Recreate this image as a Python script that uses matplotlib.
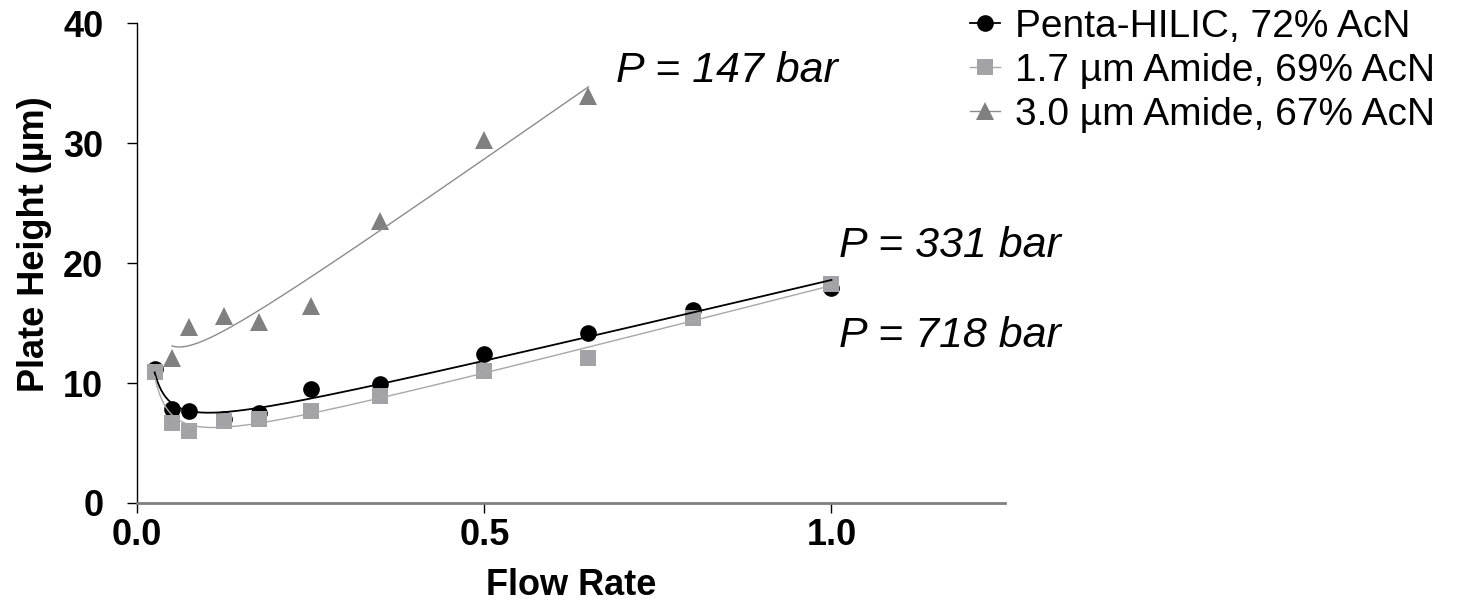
import numpy as np
import matplotlib
matplotlib.use('Agg')
import matplotlib.pyplot as plt

plt.rcParams['font.family'] = ['Liberation Sans', 'DejaVu Sans']

# flow rate / plate height values
penta_x = [0.025, 0.05, 0.075, 0.125, 0.175, 0.25, 0.35, 0.5, 0.65, 0.8, 1.0]
penta_h = [11.2, 7.8, 7.7, 7.0, 7.5, 9.5, 9.9, 12.4, 14.2, 16.1, 17.9]

amide17_x = [0.025, 0.05, 0.075, 0.125, 0.175, 0.25, 0.35, 0.5, 0.65, 0.8, 1.0]
amide17_h = [10.9, 6.7, 6.0, 6.8, 7.0, 7.7, 8.9, 11.0, 12.1, 15.4, 18.3]

amide30_x = [0.05, 0.075, 0.125, 0.175, 0.25, 0.35, 0.5, 0.65]
amide30_h = [12.1, 14.7, 15.6, 15.1, 16.4, 23.5, 30.3, 33.9]

labels = ['Penta-HILIC, 72% AcN', '1.7 \u00b5m Amide, 69% AcN', '3.0 \u00b5m Amide, 67% AcN']
pressures = ['P = 147 bar', 'P = 331 bar', 'P = 718 bar']


def van_deemter(x, h):
	# least squares H = A + B/u + C*u
	x = np.asarray(x, float)
	h = np.asarray(h, float)
	M = np.column_stack([np.ones_like(x), 1 / x, x])
	coef = np.linalg.lstsq(M, h, rcond=None)[0]
	u = np.linspace(x.min(), x.max(), 300)
	return u, coef[0] + coef[1] / u + coef[2] * u


fig = plt.figure(figsize=(14.62, 6.06), dpi=100)
ax = fig.add_axes([0.0939, 0.17, 0.5935, 0.7916])

series = [
	(penta_x, penta_h, 'o', 'black', 'black', 1.3, 12),
	(amide17_x, amide17_h, 's', '#a3a3a7', '#a8a8a8', 1.0, 11.5),
	(amide30_x, amide30_h, '^', '#808080', '#8c8c8c', 1.0, 12.5),
]
handles = []
for (x, h, m, mc, lc, lw, ms), lab in zip(series, labels):
	u, fit = van_deemter(x, h)
	ax.plot(u, fit, color=lc, lw=lw, zorder=3)
	ax.plot(x, h, ls='none', marker=m, color=mc, ms=ms, mew=0, zorder=2)
	hd, = ax.plot([], [], color=lc, lw=lw, marker=m, mfc=mc, mec=mc, ms=ms, mew=0, label=lab)
	handles.append(hd)

ax.set_xlim(0, 1.25)
ax.set_ylim(0, 40)
ax.set_xticks([0.0, 0.5, 1.0])
ax.set_xticklabels(['0.0', '0.5', '1.0'])
ax.set_yticks([0, 10, 20, 30, 40])
ax.spines['top'].set_visible(False)
ax.spines['right'].set_visible(False)
ax.spines['left'].set_linewidth(1.0)
ax.spines['bottom'].set_color('#808080')
ax.spines['bottom'].set_linewidth(2.0)
ax.tick_params(axis='y', direction='out', length=7.5, width=1, pad=17, labelsize=26)
ax.tick_params(axis='x', direction='out', length=7.5, width=1, pad=3, labelsize=26)
for t in ax.get_xticklabels() + ax.get_yticklabels():
	t.set_fontweight('bold')

ax.set_xlabel('Flow Rate', fontsize=26, fontweight='bold', labelpad=11)
ax.set_ylabel('Plate Height (\u00b5m)', fontsize=26, fontweight='bold')
ax.yaxis.set_label_coords(-0.098, 0.54)

ax.text(0.689, 35.1, pressures[0], fontsize=31, style='italic', va='baseline', clip_on=False)
ax.text(1.011, 20.5, pressures[1], fontsize=31, style='italic', va='baseline', clip_on=False)
ax.text(1.011, 13.0, pressures[2], fontsize=31, style='italic', va='baseline', clip_on=False)

fig.legend(handles=handles, loc='upper left', bbox_to_anchor=(0.6635, 0.985),
	frameon=False, fontsize=28, handlelength=0.78, handletextpad=0.38, labelspacing=0.2,
	borderpad=0, borderaxespad=0)

fig.savefig('out.png', dpi=100)
